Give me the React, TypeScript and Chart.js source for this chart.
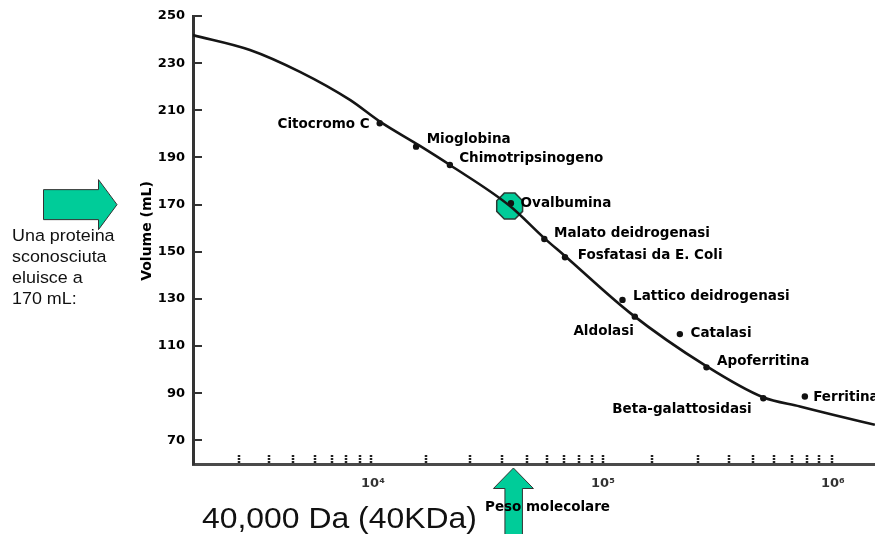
import React, { useEffect, useRef } from "react";
import { Chart, registerables } from "chart.js";

Chart.register(...registerables);

// ---- Data ----
const proteinNames = [
  "Citocromo C",
  "Mioglobina",
  "Chimotripsinogeno",
  "Ovalbumina",
  "Malato deidrogenasi",
  "Fosfatasi da E. Coli",
  "Lattico deidrogenasi",
  "Aldolasi",
  "Catalasi",
  "Apoferritina",
  "Beta-galattosidasi",
  "Ferritina",
];
const proteinMW = [10700, 15400, 21600, 39800, 55600, 68400, 121600, 137600, 216000, 282000, 498000, 755000];
const proteinVolume = [204.5, 194.6, 186.8, 170.6, 155.4, 147.7, 129.6, 122.5, 115.1, 101.0, 87.9, 88.6];

const curveMW = [1650, 2919, 4815, 7943, 10725, 16010, 21620, 39420, 55400, 68360, 131100, 280400, 496300, 718800, 1000000, 1522000];
const curveVolume = [241.9, 235.6, 226.3, 214.4, 205.2, 194.9, 186.8, 169.4, 155.9, 148.2, 124.1, 101.6, 88.3, 84.4, 80.9, 76.6];

const yTickValues = [70, 90, 110, 130, 150, 170, 190, 210, 230, 250];
const xMajorTicks = [10000, 100000, 1000000];
const xTickLabels = ["10\u2074", "10\u2075", "10\u2076"];
const xMinorTicks = [
  2615, 3530, 4490, 5595, 6640, 7630, 8780, 9800,
  17000, 26400, 36400, 46700, 57100, 67700, 78600, 89600, 100000,
  163300, 258800, 353000, 449000, 554000, 663000, 771000, 869000, 990000,
];

const xMin = 1650;
const xMax = 1524000;
const yMin = 60;
const yMax = 250;

const unknownVolume = 170; // "Una proteina sconosciuta eluisce a 170 mL"
const unknownMW = 40000; // "40,000 Da (40KDa)"
const highlightMW = 39300;
const highlightVolume = 169.4;

// ---- Styles (label placement relative to each point) ----
const labelStyle: { dx: number; dy: number; align: CanvasTextAlign }[] = [
  { dx: -10, dy: 1.7, align: "right" },
  { dx: 10.6, dy: -7.4, align: "left" },
  { dx: 9.3, dy: -6.7, align: "left" },
  { dx: 9.7, dy: 0, align: "left" },
  { dx: 9.7, dy: -5.7, align: "left" },
  { dx: 12.7, dy: -1.3, align: "left" },
  { dx: 10.6, dy: -3.3, align: "left" },
  { dx: -1, dy: 15, align: "right" },
  { dx: 10.7, dy: -0.7, align: "left" },
  { dx: 10.6, dy: -5.6, align: "left" },
  { dx: -11.6, dy: 11, align: "right" },
  { dx: 8.3, dy: 1, align: "left" },
];

const GREEN = "#00CC99";
const LABEL_FONT = 'bold 13.5px "DejaVu Sans"';
const TITLE_FONT = 'bold 14px "DejaVu Sans"';

const annotPlugin = {
  id: "annot",
  beforeDatasetsDraw(chart: any) {
    const { ctx, scales } = chart;
    const cx = scales.x.getPixelForValue(highlightMW);
    const cy = scales.y.getPixelForValue(highlightVolume);
    const r = 14;
    ctx.save();
    ctx.beginPath();
    for (let i = 0; i < 8; i++) {
      const a = Math.PI / 8 + (i * Math.PI) / 4;
      const px = cx + r * Math.cos(a);
      const py = cy + r * Math.sin(a);
      if (i === 0) ctx.moveTo(px, py);
      else ctx.lineTo(px, py);
    }
    ctx.closePath();
    ctx.fillStyle = GREEN;
    ctx.fill();
    ctx.lineWidth = 1.5;
    ctx.strokeStyle = "#2a3a35";
    ctx.stroke();
    ctx.restore();
  },
  afterDatasetsDraw(chart: any) {
    const { ctx, scales, chartArea } = chart;
    ctx.save();
    // inward y ticks
    ctx.strokeStyle = "#333";
    ctx.lineWidth = 2;
    for (const v of yTickValues) {
      const py = Math.round(scales.y.getPixelForValue(v));
      ctx.beginPath();
      ctx.moveTo(chartArea.left, py);
      ctx.lineTo(chartArea.left + 9, py);
      ctx.stroke();
    }
    // minor x ticks (above axis)
    ctx.strokeStyle = "#222";
    ctx.lineWidth = 2.5;
    ctx.setLineDash([2, 1]);
    for (const v of xMinorTicks) {
      const px = Math.round(scales.x.getPixelForValue(v));
      ctx.beginPath();
      ctx.moveTo(px, chartArea.bottom - 1);
      ctx.lineTo(px, chartArea.bottom - 9);
      ctx.stroke();
    }
    ctx.setLineDash([]);
    // point labels
    const meta = chart.getDatasetMeta(1);
    ctx.font = LABEL_FONT;
    ctx.fillStyle = "#000";
    ctx.textBaseline = "middle";
    meta.data.forEach((el: any, i: number) => {
      const s = labelStyle[i];
      ctx.textAlign = s.align;
      ctx.fillText(proteinNames[i], el.x + s.dx, el.y + s.dy);
    });
    ctx.restore();
  },
  afterDraw(chart: any) {
    const { ctx, scales, chartArea } = chart;
    ctx.save();
    ctx.fillStyle = GREEN;
    ctx.strokeStyle = "#333";
    ctx.lineWidth = 1;
    // right-pointing arrow at the unknown volume
    const ay = scales.y.getPixelForValue(unknownVolume);
    ctx.beginPath();
    ctx.moveTo(43.5, ay - 15);
    ctx.lineTo(98.5, ay - 15);
    ctx.lineTo(98.5, ay - 25);
    ctx.lineTo(117, ay);
    ctx.lineTo(98.5, ay + 25);
    ctx.lineTo(98.5, ay + 15);
    ctx.lineTo(43.5, ay + 15);
    ctx.closePath();
    ctx.fill();
    ctx.stroke();
    // up arrow at the unknown molecular weight
    const ax = scales.x.getPixelForValue(unknownMW) + 2;
    const tipY = chartArea.bottom + 4;
    ctx.beginPath();
    ctx.moveTo(ax, tipY);
    ctx.lineTo(ax + 20, tipY + 20.5);
    ctx.lineTo(ax + 9, tipY + 20.5);
    ctx.lineTo(ax + 9, 540);
    ctx.lineTo(ax - 8.5, 540);
    ctx.lineTo(ax - 8.5, tipY + 20.5);
    ctx.lineTo(ax - 20, tipY + 20.5);
    ctx.closePath();
    ctx.fill();
    ctx.stroke();
    // axis titles
    ctx.fillStyle = "#000";
    ctx.font = LABEL_FONT;
    ctx.textAlign = "center";
    ctx.textBaseline = "middle";
    ctx.fillText("Peso molecolare", 547.5, 507.5);
    ctx.font = TITLE_FONT;
    ctx.translate(147.5, 231);
    ctx.rotate(-Math.PI / 2);
    ctx.fillText("Volume (mL)", 0, 0);
    ctx.restore();
  },
};

export default function App() {
  const canvasRef = useRef<HTMLCanvasElement | null>(null);

  useEffect(() => {
    const canvas = canvasRef.current;
    if (!canvas) return;
    const yTickFont = { family: "DejaVu Sans", weight: "bold" as const, size: 13 };
    const xTickFont = { family: "DejaVu Sans", weight: "bold" as const, size: 13 };
    const chart = new Chart(canvas, {
      type: "scatter",
      data: {
        datasets: [
          {
            type: "line",
            data: curveMW.map((x, i) => ({ x, y: curveVolume[i] })),
            borderColor: "#151515",
            borderWidth: 2.6,
            pointRadius: 0,
            tension: 0.4,
            cubicInterpolationMode: "monotone",
            fill: false,
          } as any,
          {
            type: "scatter",
            data: proteinMW.map((x, i) => ({ x, y: proteinVolume[i] })),
            pointRadius: 3.2,
            pointBackgroundColor: "#111",
            pointBorderWidth: 0,
            borderWidth: 0,
          } as any,
        ],
      },
      options: {
        responsive: false,
        animation: false,
        devicePixelRatio: 1,
        layout: { autoPadding: false, padding: { top: 16, left: 0, right: 0, bottom: 0 } },
        plugins: {
          legend: { display: false },
          tooltip: { enabled: false },
          title: { display: false },
        },
        scales: {
          x: {
            type: "logarithmic",
            position: "bottom",
            min: xMin,
            max: xMax,
            grid: { display: false, drawTicks: false },
            border: { display: true, color: "#4a4a4a", width: 3 },
            ticks: {
              font: xTickFont,
              color: "#333",
              padding: 12,
              autoSkip: false,
              maxRotation: 0,
              callback: (v: any) => {
                const idx = xMajorTicks.indexOf(Number(v));
                return idx >= 0 ? xTickLabels[idx] : "";
              },
            },
            afterBuildTicks: (s: any) => {
              s.ticks = xMajorTicks.map((value) => ({ value }));
            },
            afterFit: (s: any) => {
              s.height = 70;
              s.paddingLeft = 0;
              s.paddingRight = 0;
            },
          },
          y: {
            type: "linear",
            min: yMin,
            max: yMax,
            grid: { display: false, drawTicks: false },
            border: { display: true, color: "#333", width: 3 },
            ticks: {
              font: yTickFont,
              color: "#000",
              padding: 8,
              autoSkip: false,
            },
            afterBuildTicks: (s: any) => {
              s.ticks = yTickValues.map((value) => ({ value }));
            },
            afterFit: (s: any) => {
              s.width = 193;
              s.paddingTop = 0;
              s.paddingBottom = 0;
            },
          },
        },
      },
      plugins: [annotPlugin],
    });
    return () => chart.destroy();
  }, []);

  const textStyle: React.CSSProperties = {
    position: "absolute",
    fontFamily: '"Liberation Sans", Arial, sans-serif',
    color: "#111",
    transformOrigin: "left top",
    transform: "scaleX(1.1)",
    whiteSpace: "nowrap",
    margin: 0,
  };

  return (
    <div style={{ position: "absolute", left: 0, top: 0, width: 875, height: 534, overflow: "hidden", background: "#fff" }}>
      <canvas ref={canvasRef} width={875} height={534} style={{ display: "block" }} />
      <div style={{ ...textStyle, left: 12, top: 225, fontSize: "16.3px", lineHeight: "21px" }}>
        Una proteina
        <br />
        sconosciuta
        <br />
        eluisce a
        <br />
        170 mL:
      </div>
      <div style={{ ...textStyle, left: 202, top: 504, fontSize: "29px", lineHeight: "29px" }}>
        40,000 Da (40KDa)
      </div>
    </div>
  );
}
